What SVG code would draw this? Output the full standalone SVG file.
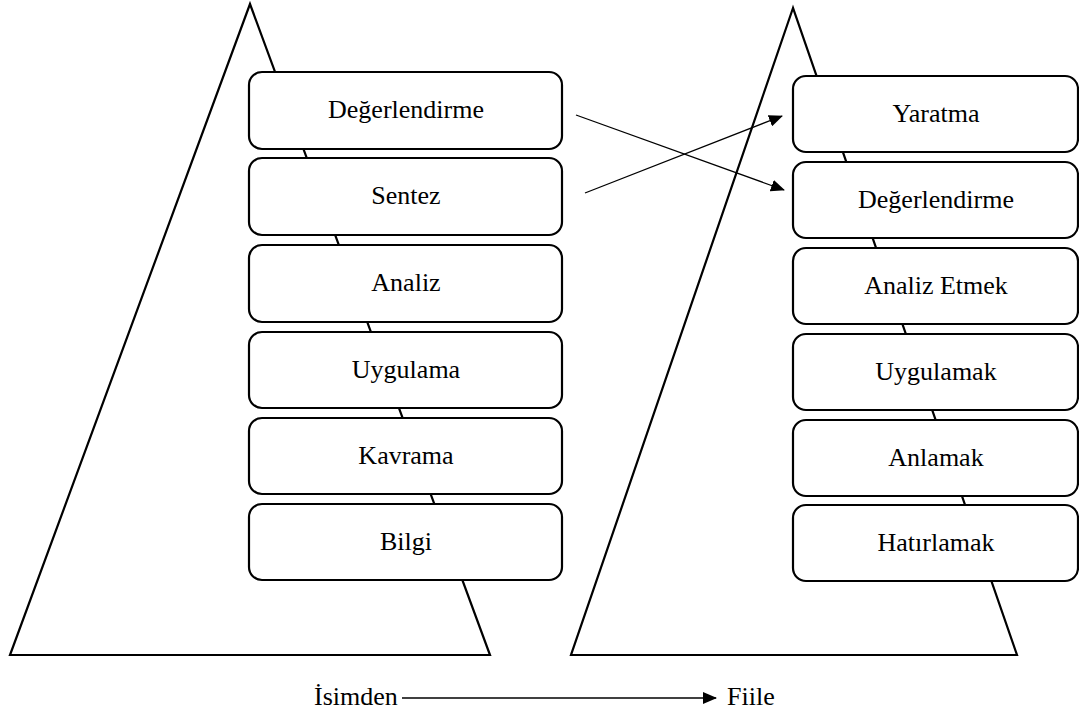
<svg xmlns="http://www.w3.org/2000/svg" width="1079" height="711" viewBox="0 0 1079 711">
  <style>
    .tri { fill: none; stroke: #000; stroke-width: 2.2; stroke-linejoin: miter; }
    .box { fill: #fff; stroke: #000; stroke-width: 2.2; }
    .lbl { font-family: "Liberation Serif", "Times New Roman", serif; font-size: 26px; fill: #000; text-anchor: middle; }
    .cap { font-family: "Liberation Serif", "Times New Roman", serif; font-size: 26px; fill: #000; }
    .conn { fill: none; stroke: #000; stroke-width: 1.3; }
  </style>
  <defs>
    <marker id="head" markerUnits="userSpaceOnUse" markerWidth="14" markerHeight="12" refX="13" refY="6" orient="auto">
      <path d="M0,0 L14,6 L0,12 Z" fill="#000"/>
    </marker>
  </defs>
  <rect width="1079" height="711" fill="#fff"/>

  <!-- pyramids -->
  <polygon class="tri" points="250,4 10,655 490,655"/>
  <polygon class="tri" points="793,8 571,655 1017,655"/>

  <!-- left column: noun forms -->
  <g id="l-degerlendirme"><rect class="box" x="249" y="72" width="313" height="77" rx="13"/><text class="lbl" x="406" y="118">Değerlendirme</text></g>
  <g id="l-sentez"><rect class="box" x="249" y="158" width="313" height="77" rx="13"/><text class="lbl" x="406" y="204">Sentez</text></g>
  <g id="l-analiz"><rect class="box" x="249" y="245" width="313" height="77" rx="13"/><text class="lbl" x="406" y="291">Analiz</text></g>
  <g id="l-uygulama"><rect class="box" x="249" y="332" width="313" height="76" rx="13"/><text class="lbl" x="406" y="378">Uygulama</text></g>
  <g id="l-kavrama"><rect class="box" x="249" y="418" width="313" height="76" rx="13"/><text class="lbl" x="406" y="464">Kavrama</text></g>
  <g id="l-bilgi"><rect class="box" x="249" y="504" width="313" height="76" rx="13"/><text class="lbl" x="406" y="550">Bilgi</text></g>

  <!-- right column: verb forms -->
  <g id="r-yaratma"><rect class="box" x="793" y="76" width="285" height="76" rx="13"/><text class="lbl" x="936" y="122">Yaratma</text></g>
  <g id="r-degerlendirme"><rect class="box" x="793" y="162" width="285" height="76" rx="13"/><text class="lbl" x="936" y="208">Değerlendirme</text></g>
  <g id="r-analiz-etmek"><rect class="box" x="793" y="248" width="285" height="76" rx="13"/><text class="lbl" x="936" y="294">Analiz Etmek</text></g>
  <g id="r-uygulamak"><rect class="box" x="793" y="334" width="285" height="76" rx="13"/><text class="lbl" x="936" y="380">Uygulamak</text></g>
  <g id="r-anlamak"><rect class="box" x="793" y="420" width="285" height="76" rx="13"/><text class="lbl" x="936" y="466">Anlamak</text></g>
  <g id="r-hatirlamak"><rect class="box" x="793" y="505" width="285" height="76" rx="13"/><text class="lbl" x="936" y="551">Hatırlamak</text></g>

  <!-- connectors -->
  <g id="connectors">
    <line class="conn" x1="576" y1="115" x2="784" y2="190" marker-end="url(#head)"/>
    <line class="conn" x1="585" y1="193" x2="782" y2="116" marker-end="url(#head)"/>
    <line class="conn" x1="402" y1="698" x2="716" y2="698" marker-end="url(#head)"/>
  </g>

  <!-- axis captions -->
  <g id="caption-noun"><text class="cap" x="314" y="705">İsimden</text></g>
  <g id="caption-verb"><text class="cap" x="727" y="705">Fiile</text></g>
</svg>
